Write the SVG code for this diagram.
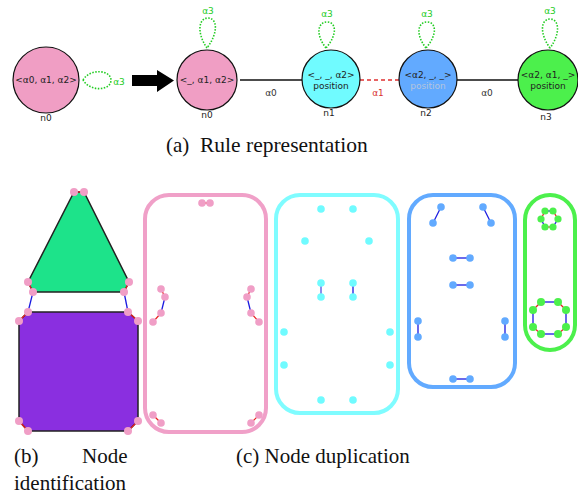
<svg xmlns="http://www.w3.org/2000/svg" width="578" height="498" viewBox="0 0 578 498">
<style>
.nd{stroke:#111;stroke-width:1.2}
.t{font-family:"DejaVu Sans",sans-serif;font-size:9px;fill:#222;text-anchor:middle}
.g{fill:#22cc22}
.loop{fill:none;stroke:#22cc22;stroke-width:1.6;stroke-dasharray:1.5 1.5}
.cap{font-family:"Liberation Serif",serif;font-size:21px;fill:#111}
.pk{fill:#f09ec6}.cy{fill:#70fbff}.bl{fill:#62aaff}.gr{fill:#4cf04c}
.r{stroke:#e82020;stroke-width:1.2}
.b{stroke:#1a1ae0;stroke-width:1.3}
.box{fill:none;stroke-width:4}
</style>
<g id="connectors">
<line x1="240" y1="80" x2="302" y2="80" stroke="#111" stroke-width="1.3"/>
<line x1="360" y1="80" x2="399" y2="80" stroke="#e03030" stroke-width="1.3" stroke-dasharray="4 3"/>
<line x1="457" y1="80" x2="518" y2="80" stroke="#111" stroke-width="1.3"/>
<path class="loop" d="M83,80 C90,68 111,70 111,80 C111,91 90,92 83,80"/>
<path class="loop" d="M207,48 C196,32 199,18 208,18 C217,18 219,32 207,48"/>
<path class="loop" d="M326,48 C315,34 318,22 327,22 C336,22 338,34 326,48"/>
<path class="loop" d="M426,48 C415,34 418,22 427,22 C436,22 438,34 426,48"/>
<path class="loop" d="M550,48 C539,33 541,19 550,19 C559,19 561,33 550,48"/>
<path d="M132,75 H157 V70 L174,80.5 L157,92 V86 H132 Z" fill="#000"/>
<text class="t g" x="119" y="85">α3</text>
<text class="t g" x="208" y="14">α3</text>
<text class="t g" x="327" y="17">α3</text>
<text class="t g" x="427" y="17">α3</text>
<text class="t g" x="550" y="14">α3</text>
<text class="t" x="271" y="96" style="fill:#333">α0</text>
<text class="t" x="378" y="96" style="fill:#d83030">α1</text>
<text class="t" x="487" y="96" style="fill:#333">α0</text>
</g>
<g id="n0a">
<circle class="nd" cx="46" cy="80" r="33" fill="#f09ec4"/>
<text class="t" x="46" y="83">&lt;α0, α1, α2&gt;</text>
<text class="t" x="46" y="121">n0</text>
</g>
<g id="n0b">
<circle class="nd" cx="207" cy="80" r="30" fill="#f09ec4"/>
<text class="t" x="207" y="83">&lt;_, α1, α2&gt;</text>
<text class="t" x="207" y="118">n0</text>
</g>
<g id="n1">
<circle class="nd" cx="331" cy="79" r="29" fill="#70fbff"/>
<text class="t" x="331" y="78">&lt;_, _, α2&gt;</text>
<text class="t" x="331" y="89">position</text>
<text class="t" x="329" y="116">n1</text>
</g>
<g id="n2">
<circle class="nd" cx="428" cy="79" r="29" fill="#62aaff"/>
<text class="t" x="428" y="78">&lt;α2, _, _&gt;</text>
<text class="t" x="428" y="89" style="fill:#b4c4dc">position</text>
<text class="t" x="426" y="116">n2</text>
</g>
<g id="n3">
<circle class="nd" cx="548" cy="80" r="30" fill="#4cf04c"/>
<text class="t" x="548" y="78">&lt;α2, α1, _&gt;</text>
<text class="t" x="548" y="89">position</text>
<text class="t" x="546" y="120">n3</text>
</g>
<text class="cap" x="166" y="152">(a)</text>
<text class="cap" x="200" y="152" style="font-size:21.5px">Rule representation</text>

<g id="identification">
<polygon points="74,192 84,192 129,282 124,292 33,292 28,282" fill="#1de38a" stroke="#222" stroke-width="1.5"/>
<polygon points="28,312 128,312 138,321 138,421 128,431 28,431 19,421 19,321" fill="#8a2fe0" stroke="#222" stroke-width="1.5"/>
<line class="b" x1="33" y1="292" x2="28" y2="312"/>
<line class="b" x1="124" y1="292" x2="128" y2="312"/>
<g class="r">
<line x1="74" y1="192" x2="84" y2="192"/>
<line x1="28" y1="282" x2="33" y2="292"/>
<line x1="129" y1="282" x2="124" y2="292"/>
<line x1="28" y1="312" x2="19" y2="321"/>
<line x1="128" y1="312" x2="138" y2="321"/>
<line x1="19" y1="421" x2="28" y2="431"/>
<line x1="138" y1="421" x2="128" y2="431"/>
</g>
<g class="pk">
<circle cx="74" cy="192" r="4"/><circle cx="84" cy="192" r="4"/>
<circle cx="28" cy="282" r="4"/><circle cx="33" cy="292" r="4"/>
<circle cx="129" cy="282" r="4"/><circle cx="124" cy="292" r="4"/>
<circle cx="28" cy="312" r="4"/><circle cx="19" cy="321" r="4"/>
<circle cx="128" cy="312" r="4"/><circle cx="138" cy="321" r="4"/>
<circle cx="19" cy="421" r="4"/><circle cx="28" cy="431" r="4"/>
<circle cx="138" cy="421" r="4"/><circle cx="128" cy="431" r="4"/>
</g>
</g>

<g id="dup-pink">
<rect class="box" x="145" y="195" width="121" height="237" rx="24" stroke="#f0a0c8"/>
<g class="r">
<line x1="202" y1="203" x2="210" y2="203"/>
<line x1="161" y1="289" x2="165" y2="297"/>
<line x1="161" y1="313" x2="153" y2="322"/>
<line x1="251" y1="289" x2="247" y2="297"/>
<line x1="251" y1="313" x2="259" y2="322"/>
<line x1="153" y1="415" x2="161" y2="423"/>
<line x1="259" y1="415" x2="251" y2="423"/>
</g>
<line class="b" x1="165" y1="297" x2="161" y2="313"/>
<line class="b" x1="247" y1="297" x2="251" y2="313"/>
<g class="pk">
<circle cx="202" cy="203" r="3.8"/><circle cx="210" cy="203" r="3.8"/>
<circle cx="161" cy="289" r="3.8"/><circle cx="165" cy="297" r="3.8"/><circle cx="161" cy="313" r="3.8"/><circle cx="153" cy="322" r="3.8"/>
<circle cx="251" cy="289" r="3.8"/><circle cx="247" cy="297" r="3.8"/><circle cx="251" cy="313" r="3.8"/><circle cx="259" cy="322" r="3.8"/>
<circle cx="153" cy="415" r="3.8"/><circle cx="161" cy="423" r="3.8"/>
<circle cx="259" cy="415" r="3.8"/><circle cx="251" cy="423" r="3.8"/>
</g>
</g>

<g id="dup-cyan">
<rect class="box" x="276" y="195" width="122" height="218" rx="24" stroke="#7ffcff"/>
<line class="b" x1="321" y1="283" x2="321" y2="297" style="stroke:#5050e0"/>
<line class="b" x1="353" y1="283" x2="353" y2="297"/>
<g class="cy">
<circle cx="321" cy="209" r="3.8"/><circle cx="353" cy="209" r="3.8"/>
<circle cx="305" cy="241" r="3.8"/><circle cx="369" cy="241" r="3.8"/>
<circle cx="321" cy="283" r="3.8"/><circle cx="321" cy="297" r="3.8"/>
<circle cx="353" cy="283" r="3.8"/><circle cx="353" cy="297" r="3.8"/>
<circle cx="284" cy="332" r="3.8"/><circle cx="390" cy="332" r="3.8"/>
<circle cx="284" cy="365" r="3.8"/><circle cx="390" cy="365" r="3.8"/>
<circle cx="321" cy="400" r="3.8"/><circle cx="353" cy="400" r="3.8"/>
</g>
</g>

<g id="dup-blue">
<rect class="box" x="409" y="195" width="106" height="192" rx="24" stroke="#62aaff"/>
<g class="b">
<line x1="441" y1="207" x2="433" y2="223"/>
<line x1="483" y1="207" x2="491" y2="223"/>
<line x1="453" y1="258" x2="470" y2="258"/>
<line x1="453" y1="285" x2="470" y2="285"/>
<line x1="418" y1="321" x2="418" y2="337"/>
<line x1="505" y1="321" x2="505" y2="337"/>
<line x1="453" y1="379" x2="470" y2="379"/>
</g>
<g class="bl">
<circle cx="441" cy="207" r="3.8"/><circle cx="433" cy="223" r="3.8"/>
<circle cx="483" cy="207" r="3.8"/><circle cx="491" cy="223" r="3.8"/>
<circle cx="453" cy="258" r="3.8"/><circle cx="470" cy="258" r="3.8"/>
<circle cx="453" cy="285" r="3.8"/><circle cx="470" cy="285" r="3.8"/>
<circle cx="418" cy="321" r="3.8"/><circle cx="418" cy="337" r="3.8"/>
<circle cx="505" cy="321" r="3.8"/><circle cx="505" cy="337" r="3.8"/>
<circle cx="453" cy="379" r="3.8"/><circle cx="470" cy="379" r="3.8"/>
</g>
</g>

<g id="dup-green">
<rect class="box" x="525" y="195" width="50" height="155" rx="25" stroke="#4cf04c"/>
<line class="b" x1="545" y1="211" x2="553" y2="211"/>
<line class="r" x1="553" y1="211" x2="558" y2="219"/>
<line class="b" x1="558" y1="219" x2="553" y2="227"/>
<line class="r" x1="553" y1="227" x2="545" y2="227"/>
<line class="b" x1="545" y1="227" x2="541" y2="219"/>
<line class="r" x1="541" y1="219" x2="545" y2="211"/>
<line class="b" x1="541" y1="302" x2="558" y2="302"/>
<line class="r" x1="558" y1="302" x2="566" y2="310"/>
<line class="b" x1="566" y1="310" x2="566" y2="327"/>
<line class="r" x1="566" y1="327" x2="558" y2="334"/>
<line class="b" x1="558" y1="334" x2="541" y2="334"/>
<line class="r" x1="541" y1="334" x2="533" y2="327"/>
<line class="b" x1="533" y1="327" x2="533" y2="310"/>
<line class="r" x1="533" y1="310" x2="541" y2="302"/>
<g class="gr">
<circle cx="545" cy="211" r="3.6"/><circle cx="553" cy="211" r="3.6"/><circle cx="558" cy="219" r="3.6"/>
<circle cx="553" cy="227" r="3.6"/><circle cx="545" cy="227" r="3.6"/><circle cx="541" cy="219" r="3.6"/>
<circle cx="541" cy="302" r="4"/><circle cx="558" cy="302" r="4"/><circle cx="566" cy="310" r="4"/><circle cx="566" cy="327" r="4"/>
<circle cx="558" cy="334" r="4"/><circle cx="541" cy="334" r="4"/><circle cx="533" cy="327" r="4"/><circle cx="533" cy="310" r="4"/>
</g>
</g>

<text class="cap" x="14" y="463">(b)</text>
<text class="cap" x="82" y="463">Node</text>
<text class="cap" x="14" y="490">identification</text>
<text class="cap" x="236" y="463">(c) Node duplication</text>
</svg>
